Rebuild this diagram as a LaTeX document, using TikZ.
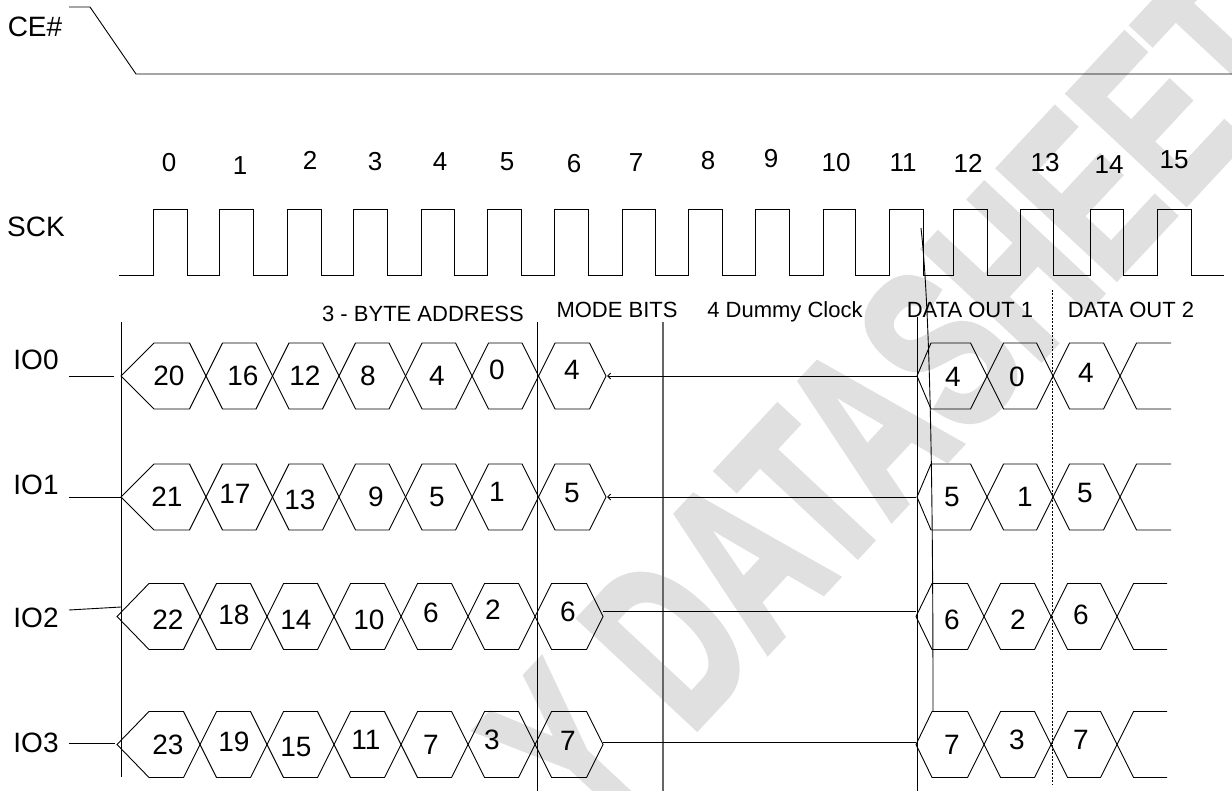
\documentclass[tikz,border=0pt]{standalone}
\usepackage{fontspec}
\setmainfont{Liberation Sans}
\newfontfamily\wmfont{Liberation Sans}[FakeBold=3]
\usetikzlibrary{arrows.meta}
\newcommand\hx[4]{% left x, right x, centre y, left diagonal width
  \draw[wave] (#1,#3) -- ({#1+#4},{#3-33}) -- ({#2-16.5},{#3-33}) -- (#2,#3)
    -- ({#2-16.5},{#3+33}) -- ({#1+#4},{#3+33}) -- cycle;}
\newcommand\hxopen[3]{% crossing x, end x, centre y
  \draw[wave] (#2,{#3-33}) -- ({#1+16.5},{#3-33}) -- (#1,#3) -- ({#1+16.5},{#3+33}) -- (#2,{#3+33});}
\begin{document}
\begin{tikzpicture}[x=1pt,y=-1pt, line join=miter,
  lbl/.style={font=\fontsize{28}{30}\selectfont, inner sep=0pt},
  num/.style={font=\fontsize{26}{28}\selectfont, inner sep=0pt},
  hexnum/.style={font=\fontsize{28}{30}\selectfont, inner sep=0pt},
  sec/.style={font=\fontsize{22}{24}\selectfont, inner sep=0pt, anchor=base},
  wave/.style={draw=black, line width=0.9pt},
  guide/.style={draw=black, line width=0.9pt},
  tip/.style={-{Straight Barb[length=3pt,width=6pt]}},
  wmark/.style={text=black!12, font=\wmfont\bfseries\fontsize{232}{232}\selectfont, rotate=47, inner sep=0pt},
]
\useasboundingbox (0,0) rectangle (1232,791);

% watermark
\begin{scope}
\clip (0,0) rectangle (1232,791);
\node[wmark] (wm) at (893,400) {\scalebox{0.66}[1]{Y DATASHEET}};
\end{scope}

% labels
\node[lbl] (ce) at (35,27) {CE\#};
\node[lbl] (sck) at (36,227) {SCK};
\node[lbl] (io0) at (36,360) {IO0};
\node[lbl] (io1) at (36,485) {IO1};
\node[lbl] (io2) at (36,618) {IO2};
\node[lbl] (io3) at (36,743) {IO3};

% CE# waveform
\draw[wave] (69,7) -- (90,7) -- (136,74) -- (1232,74);

% clock numbers
\foreach \t/\x/\y in {0/169/163,1/240/166,2/310/160,3/375/162,4/440/162,5/507/162,6/574/164,7/636/163,8/708/161,9/771/159,10/836/163,11/903/163,12/968/163,13/1045/163,14/1109/165,15/1174/160}
  \node[num] (c\t) at (\x,\y) {\t};

% SCK waveform
\draw[wave] (119,275)
  \foreach \r/\f in {153/187,219/253,287/321,353/387,421/454,487/521,554/588,622/655,688/722,755/789,823/855,889/923,953/987,1020/1053,1090/1123,1157/1191}
  { -- (\r,275) -- (\r,209) -- (\f,209) -- (\f,275) } -- (1224,275);

% section guides
\draw[guide] (121,322) -- (121,777);
\draw[guide] (537,322) -- (537,791);
\draw[draw=black!60, line width=1.4pt] (663,322) -- (663,791);
\draw[guide] (917,317) -- (917,791);
\draw[draw=black, line width=0.7pt, dash pattern=on 2pt off 1.5pt] (1052,290) -- (1052,785);
\draw[guide] (921,228) .. controls (929,300) and (933,450) .. (933,711);

% section labels
\node[sec] (s1) at (423,322) {3 - BYTE ADDRESS};
\node[sec] (s2) at (617,318) {MODE BITS};
\node[sec] (s3) at (785,318) {4 Dummy Clock};
\node[sec] (s4) at (970,318) {DATA OUT 1};
\node[sec] (s5) at (1131,318) {DATA OUT 2};

% input stubs
\draw[wave] (69,376) -- (114,376);
\draw[wave] (69,497) -- (121,497);
\draw[wave] (69,610) -- (121,607);
\draw[wave] (69,743) -- (115,743);

% IO0 / IO1 address + mode hexagons
\foreach \yc in {376,497}{
  \hx{121}{206}{\yc}{33}
  \foreach \a/\b in {206/272.5,272.5/339,339/405.5,405.5/472,472/538.5,538.5/606}
    {\hx{\a}{\b}{\yc}{16.5}}
  \hx{917}{987}{\yc}{14}
  \hx{987}{1053}{\yc}{16.5}
  \hx{1053}{1120}{\yc}{16.5}
  \hxopen{1120}{1171}{\yc}
}
% IO2 / IO3
\foreach \yc in {616.5,744.5}{
  \hx{117}{200}{\yc}{32}
  \foreach \a/\b in {200/267,267/334,334/401,401/468,468/535,535/603}
    {\hx{\a}{\b}{\yc}{16.5}}
  \hx{916}{984}{\yc}{16}
  \hx{984}{1051}{\yc}{16.5}
  \hx{1051}{1117}{\yc}{16.5}
  \hxopen{1117}{1167}{\yc}
}

% dummy-clock lines
\draw[wave,tip] (917,376) -- (607,376);
\draw[wave,tip] (916,497) -- (607,497);
\draw[wave] (603,611) -- (916,611);
\draw[wave] (603,742) -- (916,742);

% hexagon numbers
\foreach \n/\t/\x/\y in {a/20/169/376,b/16/243/376,c/12/305/376,d/8/368/376,e/4/437/376,f/0/497/370,g/4/572/370,h/4/953/377,i/0/1017/377,j/4/1086/373}
  \node[hexnum] (r0\n) at (\x,\y) {\t};
\foreach \n/\t/\x/\y in {a/21/167/497,b/17/235/494,c/13/300/500,d/9/376/497,e/5/437/497,f/1/497/492,g/5/572/493,h/5/952/497,i/1/1025/497,j/5/1085/493}
  \node[hexnum] (r1\n) at (\x,\y) {\t};
\foreach \n/\t/\x/\y in {a/22/168/620,b/18/234/615,c/14/296/620,d/10/369/620,e/6/431/613,f/2/493/610,g/6/568/612,h/6/952/620,i/2/1018/620,j/6/1081/615}
  \node[hexnum] (r2\n) at (\x,\y) {\t};
\foreach \n/\t/\x/\y in {a/23/168/745,b/19/234/742,c/15/296/747,d/11/366/740,e/7/431/745,f/3/492/740,g/7/568/741,h/7/952/745,i/3/1017/740,j/7/1081/740}
  \node[hexnum] (r3\n) at (\x,\y) {\t};
\end{tikzpicture}
\end{document}
